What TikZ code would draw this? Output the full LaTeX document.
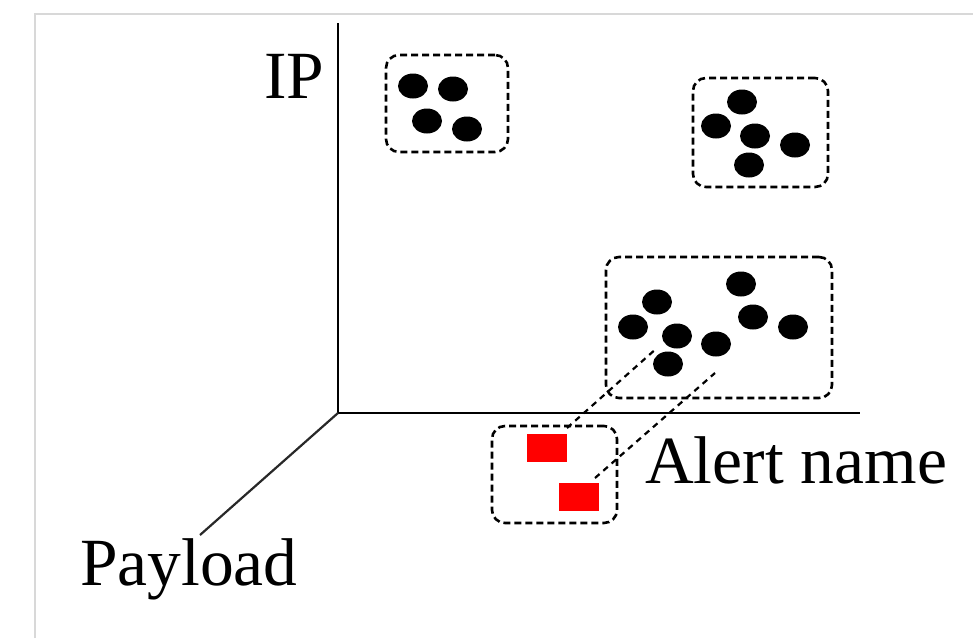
\documentclass[tikz,border=0pt]{standalone}
\usepackage{fontspec}
\setmainfont{Liberation Serif}
\usetikzlibrary{shapes.geometric}
\begin{document}
\begin{tikzpicture}[x=1pt,y=-1pt,
  dot/.style={ellipse,fill=black,draw=none,minimum width=30pt,minimum height=25pt,inner sep=0pt},
  grp/.style={rectangle,draw=black,line width=2.6pt,dash pattern=on 7pt off 4pt,rounded corners=13pt,inner sep=0pt},
  alertbox/.style={rectangle,fill=red,draw=none,minimum width=40pt,minimum height=28pt,inner sep=0pt},
  axis/.style={line width=2.6pt,black},
  link/.style={line width=2.2pt,dash pattern=on 6pt off 5pt,black},
  lbl/.style={inner sep=0pt,anchor=base west,font=\fontsize{67.5}{70}\selectfont}]
\useasboundingbox (0,0) rectangle (973,638);
\fill[white] (0,0) rectangle (973,638);
% frame
\draw[line width=1.8pt,color={rgb,255:red,216;green,216;blue,216}] (35,638) -- (35,14) -- (973,14);
% axes
\coordinate (O) at (338,413);
\coordinate (ytop) at (338,23);
\coordinate (xend) at (860,413);
\coordinate (zend) at (200,535);
\draw[axis] (ytop) -- (O) -- (xend);
\draw[line width=2.2pt,color={rgb,255:red,40;green,40;blue,40}] (O) -- (zend);
% labels
\node[lbl] (ip) at (264,98) {IP};
\node[lbl] (payload) at (80,585) {Payload};
\node[lbl] (alert) at (645,483) {Alert name};
% groups
\node[grp,minimum width=122pt,minimum height=97pt] (g1) at (447,103.5) {};
\node[grp,minimum width=135pt,minimum height=109pt] (g2) at (760.5,132.5) {};
\node[grp,minimum width=226pt,minimum height=141pt] (g3) at (719,327.5) {};
\node[grp,minimum width=125pt,minimum height=97pt] (g4) at (554.5,474.5) {};
% dots group 1
\node[dot] (a1) at (413,86) {};
\node[dot] (a2) at (453,89) {};
\node[dot] (a3) at (427,121) {};
\node[dot] (a4) at (467,129) {};
% dots group 2
\node[dot] (b1) at (742,102) {};
\node[dot] (b2) at (716,126) {};
\node[dot] (b3) at (755,136) {};
\node[dot] (b4) at (795,145) {};
\node[dot] (b5) at (749,165) {};
% dots group 3
\node[dot] (c1) at (657,302) {};
\node[dot] (c2) at (633,327) {};
\node[dot] (c3) at (677,336) {};
\node[dot] (c4) at (668,364) {};
\node[dot] (c5) at (716,344) {};
\node[dot] (c6) at (741,284) {};
\node[dot] (c7) at (753,317) {};
\node[dot] (c8) at (793,327) {};
% alerts
\node[alertbox] (r1) at (547,448) {};
\node[alertbox] (r2) at (579,497) {};
% links
\coordinate (l1s) at (567,428);
\coordinate (l1e) at (657,348);
\coordinate (l2s) at (595,478);
\coordinate (l2e) at (715,373);
\draw[link] (l1s) -- (l1e);
\draw[link] (l2s) -- (l2e);
\end{tikzpicture}
\end{document}
